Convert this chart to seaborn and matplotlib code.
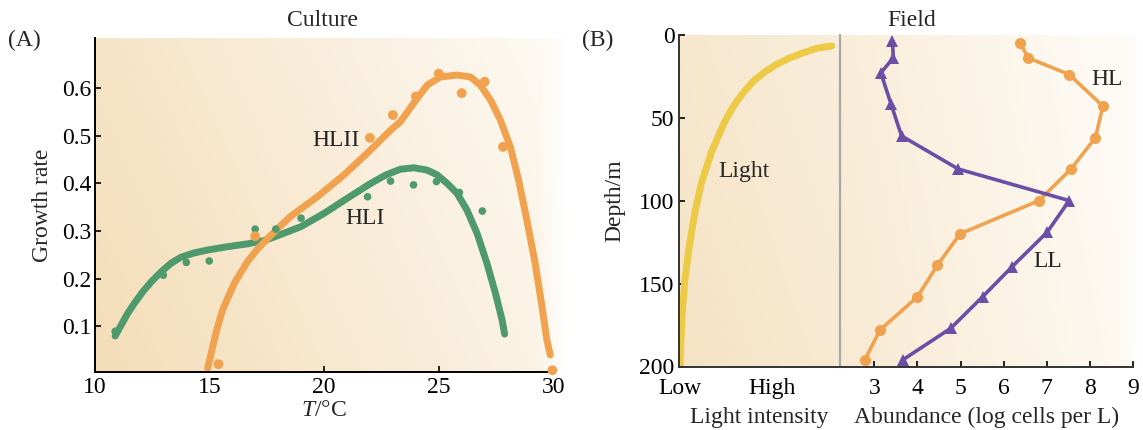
import numpy as np
import pandas as pd
import matplotlib
matplotlib.use("Agg")
import matplotlib.pyplot as plt
import seaborn as sns

# ---------------- data ----------------
# Panel A: culture growth rates
hli_temp = [10.9, 13.0, 14.0, 15.0, 17.0, 17.9, 19.0, 21.9, 22.9, 23.9, 24.9, 25.9, 26.9]
hli_rate = [0.089, 0.207, 0.234, 0.237, 0.304, 0.304, 0.327, 0.372, 0.405, 0.397, 0.404, 0.381, 0.342]
hlii_temp = [15.4, 17.0, 22.0, 23.0, 24.0, 25.0, 26.0, 27.0, 27.8, 29.95]
hlii_rate = [0.020, 0.289, 0.496, 0.544, 0.583, 0.631, 0.590, 0.614, 0.477, 0.007]

# fitted curves
hli_fit_temp = [10.90, 11.16, 11.45, 11.74, 12.10, 12.47, 12.90, 13.33, 13.77, 14.35,
                14.93, 15.80, 16.67, 17.40, 17.97, 18.99, 20.00, 21.02, 22.03, 22.70, 23.33,
                23.91, 24.50, 24.93, 25.37, 25.80, 26.23, 26.67, 27.10, 27.47, 27.76,
                27.87]
hli_fit_rate = [0.079, 0.102, 0.127, 0.148, 0.172, 0.193, 0.214, 0.232, 0.245, 0.254,
                0.260, 0.267, 0.273, 0.280, 0.290, 0.309, 0.337, 0.369, 0.400, 0.418, 0.430,
                0.433, 0.428, 0.418, 0.400, 0.379, 0.344, 0.295, 0.232, 0.169, 0.113,
                0.083]
hlii_fit_temp = [14.93, 15.29, 15.58, 16.09, 16.67, 17.10, 17.54, 18.00, 18.55, 19.71, 20.87, 21.89,
                 22.90, 23.33, 23.91, 24.50, 25.07, 25.80, 26.38, 26.81, 27.25, 27.68,
                 28.12, 28.48, 28.84, 29.20, 29.50, 29.71, 29.86]
hlii_fit_rate = [0.011, 0.085, 0.134, 0.190, 0.236, 0.262, 0.284, 0.306, 0.331, 0.372, 0.418, 0.464,
                 0.512, 0.530, 0.569, 0.607, 0.624, 0.628, 0.624, 0.607, 0.576, 0.534,
                 0.477, 0.407, 0.323, 0.232, 0.141, 0.071, 0.039]

# Panel B: field profiles
light_depth = [6.8, 8.2, 10.9, 13.9, 17.9, 22.4, 28.0, 33.7, 40.2, 46.6, 54.3, 70.5,
               88.7, 106.8, 127.0, 147.2, 167.5, 187.6, 200.0]
light_level = [0.947, 0.854, 0.771, 0.689, 0.606, 0.534, 0.462, 0.410, 0.359, 0.317,
               0.276, 0.204, 0.142, 0.101, 0.066, 0.039, 0.022, 0.012, 0.008]

hl_depth = [5, 14, 24, 43, 62, 81, 100, 120, 139, 158, 178, 196]
hl_abund = [6.38, 6.57, 7.52, 8.30, 8.13, 7.56, 6.82, 4.99, 4.46, 4.00, 3.13, 2.78]
ll_depth = [4, 14, 23, 42, 61, 81, 100, 119, 140, 158, 177, 196]
ll_abund = [3.42, 3.44, 3.15, 3.39, 3.63, 4.95, 7.52, 7.01, 6.19, 5.51, 4.77, 3.66]

a_xticks = [10, 15, 20, 25, 30]
a_yticks = [0.1, 0.2, 0.3, 0.4, 0.5, 0.6]
b_yticks = [0, 50, 100, 150, 200]
b_xticks = [3, 4, 5, 6, 7, 8, 9]
light_tick_pos = [0.008, 0.575]
light_tick_lab = ["Low", "High"]

# ---------------- style ----------------
sns.set_theme(style="ticks")
plt.rcParams['font.family'] = ['Liberation Serif', 'DejaVu Serif']
plt.rcParams['mathtext.fontset'] = 'custom'
plt.rcParams['mathtext.rm'] = 'Liberation Serif'
plt.rcParams['mathtext.it'] = 'Liberation Serif:italic'
FS = 17

GREEN = "#4f9a6c"
ORANGE = "#f0a24f"
PURPLE = "#6b4fa6"
YELLOW = "#ecca45"

fig = plt.figure(figsize=(11.43, 4.30), dpi=100)
W, H = 1143, 430


def fig_axes(x0, y0, x1, y1):
    return fig.add_axes([x0 / W, 1 - y1 / H, (x1 - x0) / W, (y1 - y0) / H])


def gradient_bg(x0, y0, x1, y1, c0, c1, ux=0.75, vy=0.25, fade=0.0):
    bg = fig_axes(x0, y0, x1, y1)
    bg.set_zorder(0)
    bg.axis('off')
    nx, ny = 300, 100
    u = np.linspace(0, 1, nx)[None, :]
    v = np.linspace(0, 1, ny)[:, None]  # 0 top, 1 bottom
    t = np.clip(ux * u + vy * (1 - v), 0, 1)
    c0 = np.array(c0) / 255.0
    c1 = np.array(c1) / 255.0
    img = c0[None, None, :] * (1 - t[..., None]) + c1[None, None, :] * t[..., None]
    if fade > 0:
        f = np.clip((u - (1 - fade)) / fade, 0, 1)[..., None]
        img = img * (1 - f) + 1.0 * f
    bg.imshow(img, aspect='auto', extent=(0, 1, 0, 1), origin='upper')
    bg.set_xlim(0, 1)
    bg.set_ylim(0, 1)
    return bg


# ---------------- Panel A ----------------
gradient_bg(94.5, 38, 566, 371.7, (244, 221, 184), (253, 249, 242), ux=0.8, vy=0.25, fade=0.06)
axA = fig_axes(94.5, 38, 553.5, 371.7)
axA.set_zorder(1)
axA.patch.set_alpha(0)

sns.lineplot(x=hli_fit_temp, y=hli_fit_rate, ax=axA, color=GREEN, lw=5,
             sort=False, estimator=None, solid_capstyle='round', solid_joinstyle='round')
sns.lineplot(x=hlii_fit_temp, y=hlii_fit_rate, ax=axA, color=ORANGE, lw=5,
             sort=False, estimator=None, solid_capstyle='round', solid_joinstyle='round')
sns.scatterplot(x=hli_temp, y=hli_rate, ax=axA, color=GREEN, s=30, edgecolor='none', zorder=3)
sns.scatterplot(x=hlii_temp, y=hlii_rate, ax=axA, color=ORANGE, s=50, edgecolor='none', zorder=3,
                clip_on=False)

axA.set_xlim(10, 30)
axA.set_ylim(0.004, 0.706)
axA.set_xticks(a_xticks)
axA.set_yticks(a_yticks)
axA.set_yticklabels([f"{v:.1f}" for v in a_yticks])
axA.tick_params(axis='x', direction='in', length=4, width=1.2, labelsize=FS, pad=4, colors='black')
axA.tick_params(axis='y', direction='in', length=4, width=1.2, labelsize=FS, pad=2, colors='black')
for s in ['top', 'right']:
    axA.spines[s].set_visible(False)
for s in ['left', 'bottom']:
    axA.spines[s].set_color('black')
    axA.spines[s].set_linewidth(1.4)
axA.set_xlabel(r"$\mathit{T}$/°C", fontsize=FS, labelpad=1)
axA.set_ylabel("Growth rate", fontsize=FS, labelpad=7)
axA.text(19.5, 0.49, "HLII", fontsize=FS, va='center', ha='left')
axA.text(20.94, 0.327, "HLI", fontsize=FS, va='center', ha='left')

fig.text(322 / W, 1 - 21 / H, "Culture", fontsize=FS, ha='center', va='center')
fig.text(8 / W, 1 - 40 / H, "(A)", fontsize=FS, ha='left', va='center')

# ---------------- Panel B ----------------
gradient_bg(678.7, 34.7, 840.3, 366.5, (245, 227, 196), (249, 238, 220), ux=0.6, vy=0.4)
gradient_bg(840.3, 34.7, 1140, 366.5, (248, 234, 210), (254, 251, 246), ux=0.9, vy=0.2, fade=0.05)

axL = fig_axes(678.7, 34.7, 840.3, 366.5)
axB = fig_axes(840.3, 34.7, 1133, 366.5)
for ax in (axL, axB):
    ax.set_zorder(1)
    ax.patch.set_alpha(0)

sns.lineplot(x=light_level, y=light_depth, ax=axL, color=YELLOW, lw=5,
             sort=False, estimator=None, solid_capstyle='round', solid_joinstyle='round')
axL.set_xlim(0, 1)
axL.set_ylim(200, 0)
axL.set_yticks(b_yticks)
axL.set_xticks(light_tick_pos)
axL.set_xticklabels(light_tick_lab)
axL.tick_params(axis='x', length=0, labelsize=FS, pad=8, colors='black')
axL.tick_params(axis='y', direction='in', length=4, width=1.2, labelsize=FS, pad=3, colors='black')
for s in ['top', 'right']:
    axL.spines[s].set_visible(False)
for s in ['left', 'bottom']:
    axL.spines[s].set_color('#333333')
    axL.spines[s].set_linewidth(1.4)
axL.set_ylabel("Depth/m", fontsize=FS, labelpad=10)
axL.set_xlabel("Light intensity", fontsize=FS, labelpad=6)
axL.text(0.245, 82.6, "Light", fontsize=FS, va='center', ha='left')

sns.lineplot(x=hl_abund, y=hl_depth, ax=axB, color=ORANGE, lw=2.6, sort=False, estimator=None,
             marker='o', markersize=8, markeredgewidth=0, markerfacecolor=ORANGE)
sns.lineplot(x=ll_abund, y=ll_depth, ax=axB, color=PURPLE, lw=2.6, sort=False, estimator=None,
             marker='^', markersize=9, markeredgewidth=0, markerfacecolor=PURPLE)
axB.set_xlim(2.21, 9)
axB.set_ylim(200, 0)
axB.set_xticks(b_xticks)
axB.set_yticks([])
axB.tick_params(axis='x', direction='in', length=4, width=1.2, labelsize=FS, pad=8, colors='black')
for s in ['top', 'right']:
    axB.spines[s].set_visible(False)
axB.spines['left'].set_color('#a8a8a8')
axB.spines['left'].set_linewidth(1.6)
axB.spines['bottom'].set_color('#333333')
axB.spines['bottom'].set_linewidth(1.4)
axB.set_xlabel("Abundance (log cells per L)", fontsize=FS, labelpad=6)
axB.text(8.03, 27, "HL", fontsize=FS, va='center', ha='left')
axB.text(6.69, 137, "LL", fontsize=FS, va='center', ha='left')

fig.text(912 / W, 1 - 21 / H, "Field", fontsize=FS, ha='center', va='center')
fig.text(582 / W, 1 - 40 / H, "(B)", fontsize=FS, ha='left', va='center')

fig.savefig("out.png", dpi=100, facecolor='white')
